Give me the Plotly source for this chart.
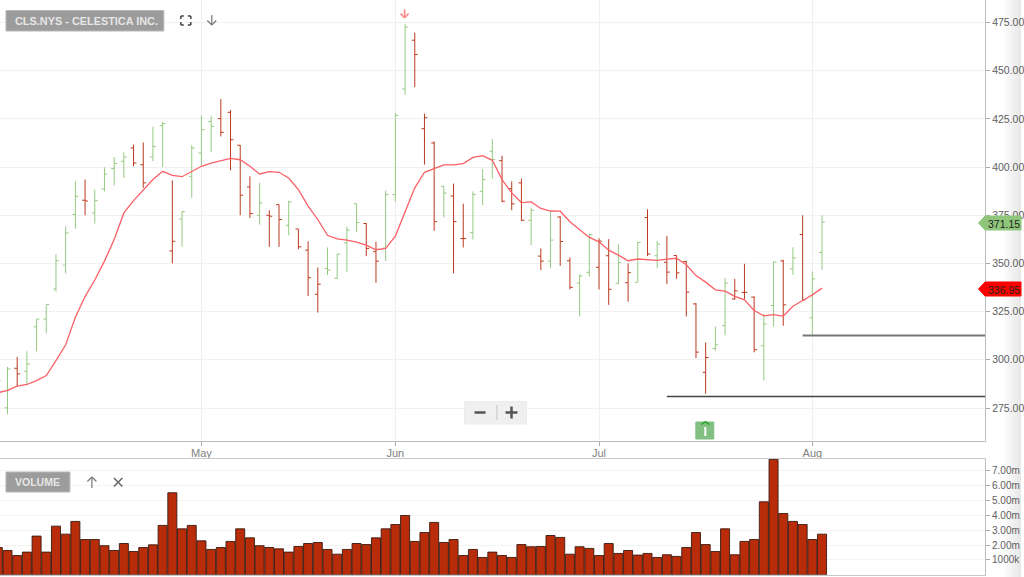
import plotly.graph_objects as go

# Price bars, oldest first (one per trading day)
opens = [286,275.1,295.6,294.1,317.1,321.1,336.7,349.1,375.4,382.8,376.2,388.6,399.2,403,409.9,401.2,405.2,421.5,356.5,373.1,395.2,407.3,423.7,425.1,428.4,411.3,389.7,374.8,375,380.5,369.8,367.9,356.9,334,347.4,342.3,360.7,381,370.7,356.1,358,385.7,440.5,465.8,419.9,412.5,390,385,362.9,366,387.4,408.2,403.3,388.8,391.8,372.4,353.8,351.2,374.1,351.4,339.9,345.4,348,354,339.7,340,340.2,373.8,354,350.6,354.1,351,329,293.5,305.9,317.7,331.6,335,332.5,307.3,328.2,351.3,347.2,365,321.8,355.7]
highs = [295,296.3,301.5,304.4,321.1,328.7,354.8,369.3,392.6,393.5,388.3,399.9,405.2,407.6,411.6,412.8,421,423.4,393.1,377.1,411.3,426.8,426.6,435.3,429.6,411.4,395.2,391.8,377.6,380.5,382.6,367.9,361.5,347.9,358.3,355,369,381,371,361.2,387.8,428,474.3,469.8,427.7,413.3,390,391.4,381,387.4,399,414.6,405.9,392.6,394,378.8,357.8,376.7,374.5,353.1,344.4,365.5,363,362.6,359.9,350,361.2,378.1,361.6,364.3,354.1,351.3,329.4,309,317.3,342.4,342,349.8,332.9,323.9,351,351.9,358.4,375,345.8,375]
lows = [283,271.7,286.3,287.2,304.4,313.7,335.4,344.8,368,375,370.7,387.4,390.4,394.3,400.4,389.2,403,400,350,358.6,384,400.9,407.8,415.9,398.3,375,373.6,370.2,358.6,358.6,364.6,357.4,333.1,324.5,344,342,345.7,366.4,353.8,340,351.2,381.9,437.5,441.5,401.3,366.9,373.8,344.9,358.3,362.4,380.2,394,381.7,377.6,372,359.5,346.6,347.5,348.8,336.6,322.5,343.2,336.6,328.5,339.2,330.2,340.2,353.8,347.5,339.3,342,322.5,300.9,282.4,304.7,312.7,331.1,331.6,303.9,289.3,317.3,317.7,344.1,330.6,313,346.7]
closes = [289.2,295.3,292.7,297.8,321.1,328.7,351.4,365.8,384.8,382.4,382.6,396.4,401.8,405.2,402.1,391.8,410.7,422.5,361.5,376.9,409.9,419.4,421.1,418,414.2,385.4,375.9,381.4,374.5,372.8,381.9,358.6,342.6,339.2,346.6,354.8,367.3,371.2,357.8,351.2,385.7,426.8,472.6,458.4,425.6,371.7,386.5,371.7,362.9,385.8,393.5,404,382.3,380.9,372.4,377.6,351.2,362.1,361.4,337.6,343.5,365,361.6,336.6,350.4,345.2,360.9,354.9,360,345.5,345.1,335.1,304,301.2,307.8,339.8,335.8,335,305.2,318.5,350.8,328.5,352.9,331.1,342,371.4]

# 5-period average line
average = [282.9,284.1,286.3,287.2,289.2,291.8,299.6,307.8,322.1,332.8,341.4,351.2,362.4,376.2,382.6,388.3,393.5,397.8,395.7,395,397.8,400.4,402.1,403.5,404.5,403.8,400.4,396.4,397.6,397.3,394.3,388.3,379.7,372.8,364.6,362.7,362.1,361.1,359.5,357.1,357.8,364.2,376.7,389.2,397.3,399,401.1,401.1,401.8,405,405.9,403.5,393.5,386.6,381.6,381.9,378.5,377.2,377.1,371.6,367.3,363.5,361.2,356.9,354.3,351.4,352.3,351.8,351.6,352.2,352.7,349.3,343.7,340.3,336.3,335.6,332.9,331.1,325.6,322.8,323.4,322.7,327.8,330.8,333.7,337.2]

# Volume in millions
volume = [1.84,1.64,1.30,1.53,2.61,1.53,3.28,2.74,3.60,2.38,2.38,1.96,1.64,2.11,1.57,1.84,2.02,3.33,5.53,3.10,3.33,2.29,1.71,1.84,2.25,3.10,2.49,1.96,1.84,1.75,1.53,1.91,2.11,2.18,1.71,1.39,1.71,2.11,2.04,2.49,3.10,3.39,4.00,2.25,2.85,3.53,2.18,2.38,1.30,1.71,1.17,1.53,1.30,1.17,2.04,1.89,1.91,2.65,2.52,1.39,1.89,1.78,1.30,2.11,1.44,1.64,1.33,1.44,1.17,1.35,1.24,1.84,2.85,2.04,1.57,3.10,1.35,2.25,2.38,4.92,7.78,4.13,3.60,3.39,2.38,2.74]

month_labels = ["May", "Jun", "Jul", "Aug"]
month_bars = [21, 41, 62, 84]
price_ticks = [275, 300, 325, 350, 375, 400, 425, 450, 475]
volume_ticks = [1, 2, 3, 4, 5, 6, 7]
volume_tick_labels = ["1000k", "2.00m", "3.00m", "4.00m", "5.00m", "6.00m", "7.00m"]
support_high = 312.6
support_low = 281.0
support_high_start = 83
support_low_start = 69
title_text = "CLS.NYS - CELESTICA INC."
panel_text = "VOLUME"
last_close_text = "371.15"
last_avg_text = "336.95"

bar_colors = "".join("g" if c > p else "r" for p, c in zip([286] + closes[:-1], closes))

W, H = 1024, 577
XS = 1024 / 1022  # the photographed page comes out very slightly narrow
n = len(closes)
bars = list(range(n))
X_LO, X_HI = 0.227, 101.81
GREEN, RED = "#96ca84", "#bb3a1e"
FONT = "Liberation Sans"


def fx(x):
    return x * XS / W


def fy(y):
    return 1 - y / H


def seg(x0, y0, x1, y1, color, width=1.5):
    return dict(type="line", xref="paper", yref="paper", x0=fx(x0), y0=fy(y0), x1=fx(x1), y1=fy(y1),
                line=dict(color=color, width=width))


def box(x0, y0, x1, y1, color, line=None):
    return dict(type="rect", xref="paper", yref="paper", x0=fx(x0), y0=fy(y0), x1=fx(x1), y1=fy(y1),
                fillcolor=color, line=dict(color=line or color, width=1))


def poly(points, color):
    d = "M" + " L".join(f"{fx(a):.5f},{fy(b):.5f}" for a, b in points) + " Z"
    return dict(type="path", xref="paper", yref="paper", path=d, fillcolor=color, line=dict(color=color, width=1))


def label(x, y, text, color, size=11, bold=False, anchor="center"):
    return dict(xref="paper", yref="paper", x=fx(x), y=fy(y), text=f"<b>{text}</b>" if bold else text,
                showarrow=False, xanchor=anchor, yanchor="middle",
                font=dict(family=FONT, size=size, color=color))


fig = go.Figure()

for key, col in (("g", GREEN), ("r", RED)):
    idx = [i for i in bars if bar_colors[i] == key]
    fig.add_trace(go.Ohlc(
        x=idx,
        open=[opens[i] for i in idx], high=[highs[i] for i in idx],
        low=[lows[i] for i in idx], close=[closes[i] for i in idx],
        increasing=dict(line=dict(color=col, width=1)),
        decreasing=dict(line=dict(color=col, width=1)),
        tickwidth=0.3, xaxis="x", yaxis="y", showlegend=False, hoverinfo="skip"))

fig.add_trace(go.Scatter(x=bars, y=average, mode="lines", xaxis="x", yaxis="y",
                         line=dict(color="#fb6066", width=1.3), showlegend=False, hoverinfo="skip"))
fig.add_trace(go.Scatter(x=[support_high_start, X_HI], y=[support_high, support_high], mode="lines",
                         xaxis="x", yaxis="y", line=dict(color="#777777", width=2), showlegend=False, hoverinfo="skip"))
fig.add_trace(go.Scatter(x=[support_low_start, X_HI], y=[support_low, support_low], mode="lines",
                         xaxis="x", yaxis="y", line=dict(color="#444444", width=1.5), showlegend=False, hoverinfo="skip"))
fig.add_trace(go.Bar(x=bars, y=volume, xaxis="x2", yaxis="y2", width=0.93,
                     marker=dict(color="#b82c0a", line=dict(color="#3a1a10", width=0.9)),
                     showlegend=False, hoverinfo="skip"))

shapes = []
# soft shade at the right edge
for k, x in enumerate(range(1006, 1024, 2)):
    shapes.append(dict(type="rect", xref="paper", yref="paper", x0=x / W, x1=(x + 2) / W, y0=0, y1=1,
                       fillcolor=f"rgba(150,150,150,{0.02 + 0.025 * k:.3f})", line=dict(width=0), layer="below"))
# title and panel buttons
shapes.append(box(6, 10.5, 164, 31, "#9c9c9c", "#b8b8b8"))
shapes.append(box(6, 472, 70, 492, "#9c9c9c", "#b8b8b8"))
# fullscreen icon
c = "#444444"
for sx, sy, dx, dy in ((181, 16, 1, 1), (191, 16, -1, 1), (181, 25, 1, -1), (191, 25, -1, -1)):
    shapes.append(seg(sx, sy, sx + 3 * dx, sy, c))
    shapes.append(seg(sx, sy, sx, sy + 3 * dy, c))
# small arrows
c = "#777777"
shapes += [seg(212, 15, 212, 25, c, 1.2), seg(207.5, 20.5, 212, 25, c, 1.2), seg(216.5, 20.5, 212, 25, c, 1.2)]
shapes += [seg(92, 477, 92, 488, c, 1.2), seg(87.5, 481.5, 92, 477, c, 1.2), seg(96.5, 481.5, 92, 477, c, 1.2)]
c = "#666666"
shapes += [seg(114, 478, 122.5, 486.5, c, 1.5), seg(122.5, 478, 114, 486.5, c, 1.5)]
# pink arrow above the high
c = "#f88f8f"
shapes += [seg(405, 9.5, 405, 18, c, 1.8), seg(401, 13.5, 405, 18, c, 1.8), seg(409, 13.5, 405, 18, c, 1.8)]
# zoom control
shapes.append(box(465, 401.5, 527, 424, "#f0f0f0", "#ececec"))
shapes.append(seg(497.5, 405, 497.5, 420, "#c4c4c4", 1))
shapes.append(seg(475, 412.5, 486, 412.5, "#555555", 2.5))
shapes.append(seg(506, 412.5, 518, 412.5, "#555555", 2.5))
shapes.append(seg(512, 406.5, 512, 418.5, "#555555", 2.5))
# green signal marker
shapes.append(box(696.5, 422, 714.5, 439, "#82bf82"))
shapes += [seg(706, 427, 706, 436, "#ffffff", 2), seg(702, 424.5, 706, 421.5, "#22a022", 1.5), seg(710, 424.5, 706, 421.5, "#22a022", 1.5)]
# price tags
shapes.append(poly([(979.5, 223), (986, 216), (1022, 216), (1022, 230), (986, 230)], "#8fc67c"))
shapes.append(poly([(979.5, 289), (986, 282), (1022, 282), (1022, 296), (986, 296)], "#ff0000"))

annotations = [
    label(86.5, 21, title_text, "#e6e6e6", 10.9, True),
    label(37.5, 482, panel_text, "#e6e6e6", 10.5, True),
    label(1005, 223.5, last_close_text, "#222222", 10.5),
    label(1005, 289.5, last_avg_text, "#222222", 10.5),
]

main_top, main_bottom = 0, 441
vol_top, vol_bottom = 459, 574.8
plot_right = 986 * XS / W

fig.update_layout(
    width=W, height=H, autosize=False,
    margin=dict(l=0, r=0, t=0, b=0),
    paper_bgcolor="#ffffff", plot_bgcolor="#ffffff",
    font=dict(family=FONT, size=11, color="#555555"),
    bargap=0.05, showlegend=False, dragmode=False,
    shapes=shapes, annotations=annotations,
    xaxis=dict(domain=[0, plot_right], anchor="y", range=[X_LO, X_HI],
               tickvals=month_bars, ticktext=month_labels, ticks="outside", ticklen=4, tickcolor="#aaaaaa",
               tickfont=dict(family=FONT, size=11, color="#808080"), ticklabelstandoff=-2,
               showgrid=True, gridcolor="#efefef", gridwidth=1, zeroline=False,
               showline=True, linecolor="#bdbdbd", linewidth=1,
               rangeslider=dict(visible=False)),
    yaxis=dict(domain=[fy(main_bottom), fy(main_top)], anchor="x", side="right",
               range=[475 - (441 - 22.5) / 1.9275, 475 + 22.5 / 1.9275],
               tickvals=price_ticks, tickformat=".2f", ticks="outside", ticklen=4, tickcolor="#aaaaaa",
               tickfont=dict(family=FONT, size=10.5, color="#5e5e5e"),
               showgrid=True, gridcolor="#f1f1f1", gridwidth=1, zeroline=False,
               showline=True, linecolor="#bdbdbd", linewidth=1),
    xaxis2=dict(domain=[0, plot_right], anchor="y2", range=[X_LO, X_HI], matches="x",
                showticklabels=False, ticks="", showgrid=False, zeroline=False,
                showline=True, linecolor="#c8c8c8", linewidth=1, mirror=True),
    yaxis2=dict(domain=[fy(vol_bottom), fy(vol_top)], anchor="x2", side="right",
                range=[0, (vol_bottom - vol_top) / 14.83],
                tickvals=volume_ticks, ticktext=volume_tick_labels, ticks="outside", ticklen=4, tickcolor="#aaaaaa",
                tickfont=dict(family=FONT, size=10, color="#5e5e5e"),
                showgrid=True, gridcolor="#f3f3f3", gridwidth=1, zeroline=False,
                showline=True, linecolor="#bdbdbd", linewidth=1),
)

fig.write_html("out.html", config=dict(displayModeBar=False),
               post_script="document.body.style.margin='0';document.body.style.overflow='hidden';")
